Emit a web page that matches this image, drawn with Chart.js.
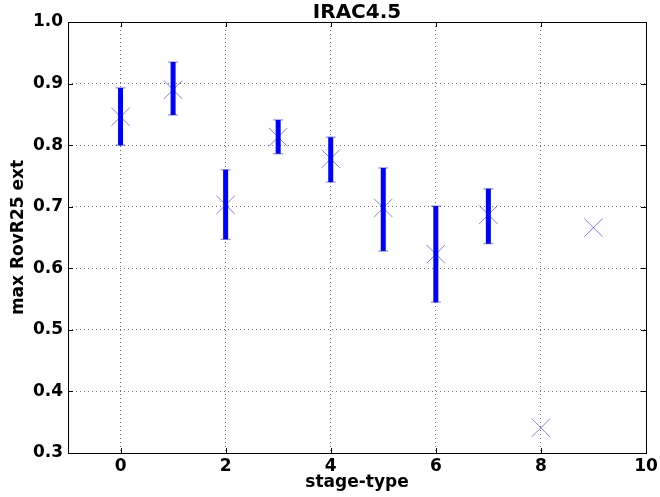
<!DOCTYPE html>
<html>
<head>
<meta charset="utf-8">
<script src="https://cdn.jsdelivr.net/npm/chart.js@4.4.0/dist/chart.umd.min.js"></script>
<style>
  html, body { margin: 0; padding: 0; background: #fff; }
  #wrap { width: 660px; height: 497px; position: relative; }
</style>
</head>
<body>
<div id="wrap"><canvas id="c"></canvas></div>
<script>
// values
const stages = [0, 1, 2, 3, 4, 5, 6, 7, 8, 9];
const means = [0.846, 0.890, 0.703, 0.813, 0.778, 0.698, 0.623, 0.687, 0.341, 0.666];
const errLow = [0.800, 0.849, 0.647, 0.786, 0.740, 0.628, 0.545, 0.640, null, null];
const errHigh = [0.893, 0.935, 0.760, 0.841, 0.813, 0.763, 0.701, 0.729, null, null];
const xTicks = [0, 2, 4, 6, 8, 10];
const yTicks = [0.3, 0.4, 0.5, 0.6, 0.7, 0.8, 0.9, 1.0];
const titleText = 'IRAC4.5';

const FONT = "'DejaVu Sans', sans-serif";

// points, error bar segments (broken by null) and caps
const markerPts = stages.map((s, i) => ({ x: s, y: means[i] }));
const barPts = [];
const capPts = [];
stages.forEach((s, i) => {
  if (errLow[i] == null) return;
  barPts.push({ x: s, y: errLow[i] }, { x: s, y: errHigh[i] }, { x: s, y: null });
  capPts.push({ x: s, y: errLow[i] }, { x: s, y: errHigh[i] });
});

// frame, inward tick marks and the title (centred on the plot, like matplotlib)
const framePlugin = {
  id: 'frame',
  afterDraw(chart) {
    const { ctx, chartArea: a, scales } = chart;
    ctx.save();
    ctx.strokeStyle = '#000';
    ctx.lineWidth = 1;
    const tl = 5;
    ctx.beginPath();
    xTicks.forEach((v) => {
      const px = Math.round(scales.x.getPixelForValue(v)) + 0.5;
      ctx.moveTo(px, a.bottom); ctx.lineTo(px, a.bottom - tl);
      ctx.moveTo(px, a.top); ctx.lineTo(px, a.top + tl);
    });
    yTicks.forEach((v) => {
      const py = Math.round(scales.y.getPixelForValue(v)) + 0.5;
      ctx.moveTo(a.left, py); ctx.lineTo(a.left + tl, py);
      ctx.moveTo(a.right, py); ctx.lineTo(a.right - tl, py);
    });
    ctx.stroke();
    ctx.strokeRect(Math.round(a.left) + 0.5, Math.round(a.top) + 0.5,
      Math.round(a.right - a.left), Math.round(a.bottom - a.top));

    ctx.fillStyle = '#000';
    ctx.font = 'bold 20px ' + FONT;
    ctx.textAlign = 'center';
    ctx.textBaseline = 'alphabetic';
    ctx.fillText(titleText, (a.left + a.right) / 2, a.top - 4);
    ctx.restore();
  },
};

new Chart(document.getElementById('c'), {
  type: 'scatter',
  data: {
    datasets: [
      {
        data: markerPts,
        pointStyle: 'crossRot',
        pointRadius: 13,
        pointBorderWidth: 1,
        pointBorderColor: 'rgba(0,0,255,0.5)',
        pointBackgroundColor: 'rgba(0,0,255,0.5)',
        showLine: false,
        order: 0,
      },
      {
        data: capPts,
        pointStyle: 'line',
        pointRadius: 5,
        pointBorderWidth: 1.2,
        pointBorderColor: 'rgba(0,0,255,0.45)',
        showLine: false,
        order: 1,
      },
      {
        data: barPts,
        showLine: true,
        spanGaps: false,
        borderColor: '#0000ff',
        borderWidth: 5,
        borderCapStyle: 'butt',
        pointRadius: 0,
        order: 2,
      },
    ],
  },
  plugins: [framePlugin],
  options: {
    responsive: true,
    maintainAspectRatio: false,
    animation: false,
    layout: { padding: { top: 22, right: 11, left: 0, bottom: 0 } },
    plugins: {
      legend: { display: false },
      tooltip: { enabled: false },
      title: { display: false },
    },
    scales: {
      x: {
        type: 'linear',
        min: -1,
        max: 10,
        afterBuildTicks: (s) => { s.ticks = xTicks.map((v) => ({ value: v })); },
        afterFit: (s) => { s.height = 44; s.paddingLeft = 0; s.paddingRight = 0; },
        grid: { color: 'rgba(0,0,0,0.55)', drawTicks: false, lineWidth: 1 },
        border: { display: false, dash: [1, 3] },
        ticks: {
          color: '#000',
          padding: 3,
          maxRotation: 0,
          font: { family: FONT, size: 17, weight: 'bold' },
          callback: (v) => String(v),
        },
        title: {
          display: true,
          text: 'stage-type',
          color: '#000',
          font: { family: FONT, size: 17, weight: 'bold' },
          padding: { top: 0, bottom: 4 },
        },
      },
      y: {
        min: 0.3,
        max: 1.0,
        afterBuildTicks: (s) => { s.ticks = yTicks.map((v) => ({ value: v })); },
        afterFit: (s) => { s.width = 68; s.paddingTop = 0; s.paddingBottom = 0; },
        grid: { color: 'rgba(0,0,0,0.55)', drawTicks: false, lineWidth: 1 },
        border: { display: false, dash: [1, 3] },
        ticks: {
          color: '#000',
          padding: 5,
          font: { family: FONT, size: 17, weight: 'bold' },
          callback: (v) => Number(v).toFixed(1),
        },
        title: {
          display: true,
          text: 'max RovR25 ext',
          color: '#000',
          font: { family: FONT, size: 17, weight: 'bold' },
          padding: { top: 8, bottom: 0 },
        },
      },
    },
  },
});
</script>
</body>
</html>
